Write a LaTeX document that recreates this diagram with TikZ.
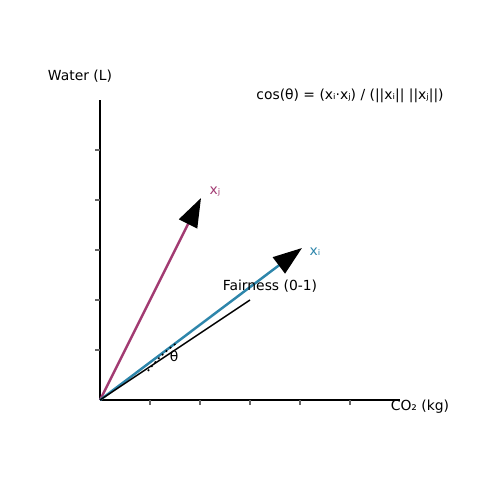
\documentclass[tikz,border=0pt]{standalone}
\usepackage{fontspec}
\setmainfont{DejaVu Sans}
\usepackage{tikz}
\usetikzlibrary{positioning,arrows.meta}
\definecolor{vecblue}{HTML}{2E86AB}
\definecolor{vecplum}{HTML}{A23B72}

\begin{document}
\begin{tikzpicture}[x=1cm,y=1cm,
	every node/.style={font=\fontsize{7.9}{9.5}\selectfont},
	axisline/.style={line width=1.1pt, black},
	tickmark/.style={line width=0.6pt, black!60},
	vecline/.style={line width=1.4pt, -{Triangle[length=5.8mm,width=4mm,color=black,fill=black]}}]
\useasboundingbox (-2,-2) rectangle (8,8);
% axes
\coordinate (O) at (0,0);
\coordinate (xend) at (6,0);
\coordinate (yend) at (0,6);
\draw[axisline] (O) -- (xend);
\draw[axisline] (O) -- (yend);
\foreach \t in {1,...,5}{
	\draw[tickmark] (\t,0) -- (\t,-0.1);
	\draw[tickmark] (0,\t) -- (-0.1,\t);
}
\node (ylab) at (-0.4,6.48) {Water (L)};
\node (xlab) at (6.4,-0.14) {CO₂ (kg)};
\node (formula) at (5,6.08) {cos(θ) = (xᵢ·xⱼ) / (||xᵢ|| ||xⱼ||)};
% vectors
\coordinate (xjtip) at (2.02,4.04);
\coordinate (xitip) at (4.04,3.04);
\coordinate (fairend) at (3,2);
\draw[vecline, vecplum] (O) -- (xjtip);
\draw[vecline, vecblue] (O) -- (xitip);
\draw[line width=0.8pt] (O) -- (fairend);
\node[text=vecplum] (xjlab) at (2.3,4.16) {xⱼ};
\node[text=vecblue] (xilab) at (4.3,2.96) {xᵢ};
\node (fairlab) at (3.4,2.28) {Fairness (0-1)};
% angle
\coordinate (arcA) at (0.96,0.58);
\coordinate (arcB) at (1.56,1.16);
\draw[dash pattern=on 1pt off 2pt, line width=0.9pt] (arcA) to[bend left=8] (arcB);
\node (theta) at (1.48,0.88) {θ};
\end{tikzpicture}
\end{document}
